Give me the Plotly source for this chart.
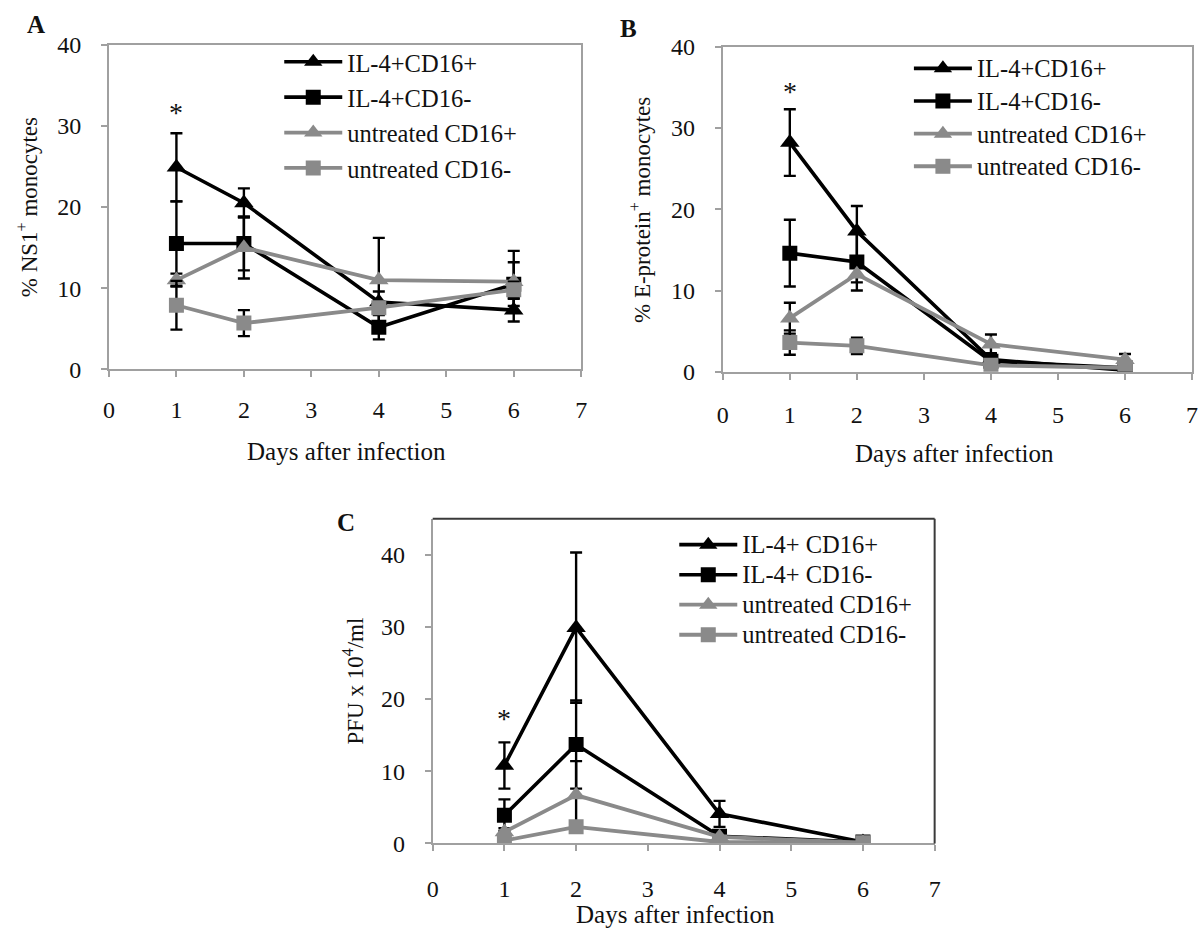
import plotly.graph_objects as go

days = [1, 2, 4, 6]
names_ab = ["IL-4+CD16+", "IL-4+CD16-", "untreated CD16+", "untreated CD16-"]
names_c = ["IL-4+ CD16+", "IL-4+ CD16-", "untreated CD16+", "untreated CD16-"]

# Panel A: % NS1+ monocytes
a_il4_p = [24.9, 20.5, 8.3, 7.3]
a_il4_p_err = [4.2, 1.8, 1.3, 1.4]
a_il4_m = [15.5, 15.5, 5.2, 10.5]
a_il4_m_err = [5.2, 3.3, 1.5, 2.7]
a_un_p = [11.0, 15.0, 11.0, 10.8]
a_un_p_err = [0.8, 3.8, 5.2, 3.8]
a_un_m = [7.9, 5.7, 7.6, 9.8]
a_un_m_err = [3.0, 1.6, 0.8, 1.0]

# Panel B: % E-protein+ monocytes
b_il4_p = [28.2, 17.3, 1.5, 0.2]
b_il4_p_err = [4.1, 3.1, 0.8, 0.3]
b_il4_m = [14.6, 13.5, 1.3, 0.5]
b_il4_m_err = [4.1, 3.5, 0.5, 0.3]
b_un_p = [6.6, 12.0, 3.4, 1.5]
b_un_p_err = [1.9, 1.0, 1.2, 0.7]
b_un_m = [3.6, 3.2, 0.8, 0.5]
b_un_m_err = [1.5, 1.0, 0.3, 0.2]

# Panel C: PFU x 10^4/ml
c_il4_p = [10.8, 29.9, 4.1, 0.2]
c_il4_p_err = [3.2, 10.4, 1.8, 0.1]
c_il4_m = [3.9, 13.7, 1.0, 0.2]
c_il4_m_err = [2.2, 6.1, 0.5, 0.1]
c_un_p = [1.6, 6.7, 0.9, 0.1]
c_un_p_err = [0.5, 4.7, 0.3, 0.05]
c_un_m = [0.4, 2.3, 0.2, 0.1]
c_un_m_err = [0.3, 0.4, 0.1, 0.05]

x_ticks = [0, 1, 2, 3, 4, 5, 6, 7]
y_ticks = [0, 10, 20, 30, 40]

BLACK = "#000000"
GRAY = "#8a8a8a"
AXIS = "#a0a0a0"
TXT = "#111111"
FONT = "Liberation Serif"
W, H = 1203, 942
LEG_TEXT = 24.5

styles = [
    (BLACK, "triangle-up", 17, 3.6),
    (BLACK, "square", 15, 3.6),
    (GRAY, "triangle-up", 17, 3.8),
    (GRAY, "square", 15, 3.8),
]

def px_x(v):
    return v / W

def px_y(v):
    return 1 - v / H

def leg_label(n):
    return '<span style="font-size:%spx">%s</span>' % (LEG_TEXT, n)

fig = go.Figure()

panels = [
    ("x", "y", "legend", names_ab,
     [(a_il4_p, a_il4_p_err), (a_il4_m, a_il4_m_err), (a_un_p, a_un_p_err), (a_un_m, a_un_m_err)]),
    ("x2", "y2", "legend2", names_ab,
     [(b_il4_p, b_il4_p_err), (b_il4_m, b_il4_m_err), (b_un_p, b_un_p_err), (b_un_m, b_un_m_err)]),
    ("x3", "y3", "legend3", names_c,
     [(c_il4_p, c_il4_p_err), (c_il4_m, c_il4_m_err), (c_un_p, c_un_p_err), (c_un_m, c_un_m_err)]),
]

for xa, ya, lg, names, series in panels:
    for i, ((vals, errs), (col, sym, msz, lw)) in enumerate(zip(series, styles)):
        fig.add_trace(go.Scatter(
            x=days, y=vals, name=leg_label(names[i]), mode="lines+markers",
            xaxis=xa, yaxis=ya, legend=lg,
            line=dict(color=col, width=lw),
            marker=dict(symbol=sym, size=msz, color=col),
            error_y=dict(type="data", array=errs, visible=True,
                         color=BLACK, thickness=2.4, width=6),
        ))

tick_font = dict(family=FONT, size=24, color=TXT)

def xaxis(x0, x1, anchor, standoff, mirror):
    return dict(domain=[px_x(x0), px_x(x1)], anchor=anchor, range=[0, 7], tickvals=x_ticks,
                showline=True, linecolor=AXIS, linewidth=2, ticks="outside",
                tickcolor=AXIS, ticklen=6, tickwidth=2, showgrid=False, zeroline=False,
                mirror=mirror, tickfont=tick_font, ticklabelstandoff=standoff)

def yaxis(ytop, ybot, anchor, rng, mirror):
    return dict(domain=[px_y(ybot), px_y(ytop)], anchor=anchor, range=rng, tickvals=y_ticks,
                showline=True, linecolor=AXIS, linewidth=2, ticks="outside",
                tickcolor=AXIS, ticklen=6, tickwidth=2, showgrid=False, zeroline=False,
                mirror=mirror, tickfont=tick_font, ticklabelstandoff=15)

def legend(x, yc, size):
    return dict(x=px_x(x), y=px_y(yc), xanchor="left", yanchor="middle",
                font=dict(family=FONT, size=size, color=TXT),
                bgcolor="rgba(0,0,0,0)", itemwidth=58, tracegroupgap=0)

fig.update_layout(
    width=W, height=H,
    margin=dict(l=0, r=0, t=0, b=0),
    paper_bgcolor="white", plot_bgcolor="white",
    font=dict(family=FONT, color=TXT),
    xaxis=xaxis(104, 581, "y", 12, True),
    yaxis=yaxis(32.6, 366.5, "x", [0, 40], True),
    xaxis2=xaxis(724, 1198, "y2", 14, True),
    yaxis2=yaxis(34.6, 369, "x2", [0, 40], True),
    xaxis3=xaxis(431, 938, "y3", 17, False),
    yaxis3=yaxis(520, 854, "x3", [0, 45], False),
    legend=legend(276, 105, 24.9),
    legend2=legend(912, 107.5, 22.8),
    legend3=legend(675, 593.5, 20.8),
    showlegend=True,
)

# darker top/right frame of panel C
fig.add_shape(type="line", xref="x3 domain", yref="y3 domain", x0=0, x1=1, y0=1, y1=1,
              line=dict(color="#3a3a3a", width=2))
fig.add_shape(type="line", xref="x3 domain", yref="y3 domain", x0=1, x1=1, y0=0, y1=1,
              line=dict(color="#3a3a3a", width=2))

# axis titles
xt_font = dict(family=FONT, size=25, color=TXT)
yt_font = dict(family=FONT, size=23, color=TXT)
for txt, cx, cy in [("Days after infection", 344, 451),
                    ("Days after infection", 958, 453),
                    ("Days after infection", 676, 927)]:
    fig.add_annotation(x=px_x(cx), y=px_y(cy), xref="paper", yref="paper", text=txt,
                       showarrow=False, font=xt_font, xanchor="center", yanchor="middle")
for txt, cx, cy in [("% NS1<sup>+</sup> monocytes", 22, 200),
                    ("% E-protein<sup>+</sup> monocytes", 641, 203),
                    ("PFU x 10<sup>4</sup>/ml", 351, 687)]:
    fig.add_annotation(x=px_x(cx), y=px_y(cy), xref="paper", yref="paper", text=txt,
                       textangle=-90, showarrow=False, font=yt_font,
                       xanchor="center", yanchor="middle")

star_font = dict(family=FONT, size=28, color=TXT)
fig.add_annotation(x=1, y=31.7, xref="x", yref="y", text="*", showarrow=False, font=star_font)
fig.add_annotation(x=1, y=34.5, xref="x2", yref="y2", text="*", showarrow=False, font=star_font)
fig.add_annotation(x=1, y=17.3, xref="x3", yref="y3", text="*", showarrow=False, font=star_font)

label_font = dict(family=FONT, size=25, color=TXT)
for txt, cx, cy in [("A", 30, 12), ("B", 629, 16), ("C", 343, 524)]:
    fig.add_annotation(x=px_x(cx), y=px_y(cy), xref="paper", yref="paper", text="<b>%s</b>" % txt,
                       showarrow=False, font=label_font, xanchor="center", yanchor="middle")

fig.write_html("out.html",
               config={"displayModeBar": False},
               post_script="document.body.style.margin='0px';document.body.style.overflow='hidden';")
